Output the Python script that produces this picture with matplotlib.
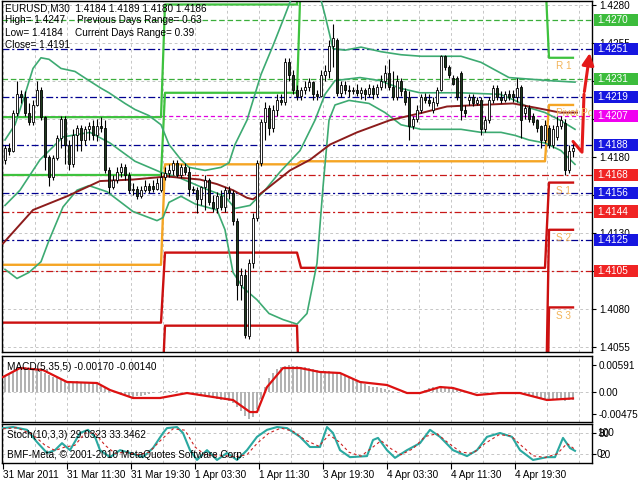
import numpy as np
import matplotlib
matplotlib.use("Agg")
import matplotlib.pyplot as plt
from matplotlib.patches import Rectangle
from matplotlib.transforms import blended_transform_factory

plt.rcParams['font.family'] = ['Liberation Sans', 'DejaVu Sans']
plt.rcParams['lines.scale_dashes'] = False

# ---------------- data ----------------
opens = [1.4178,1.4186,1.4184,1.4209,1.4221,1.4219,1.4209,1.4203,1.4214,1.4224,
 1.4206,1.4180,1.4167,1.4179,1.4192,1.4205,1.4188,1.4175,1.4194,1.4199,
 1.4191,1.4198,1.4200,1.4194,1.4200,1.4199,1.4171,1.4160,1.4165,1.4170,
 1.4173,1.4168,1.4158,1.4159,1.4154,1.4158,1.4161,1.4161,1.4159,1.4158,
 1.4167,1.4169,1.4171,1.4176,1.4168,1.4173,1.4170,1.4159,1.4158,1.4152,
 1.4160,1.4165,1.4150,1.4146,1.4154,1.4147,1.4158,1.4156,1.4138,1.4096,
 1.4102,1.4062,1.4110,1.4140,1.4176,1.4203,1.4212,1.4199,1.4211,1.4217,
 1.4216,1.4242,1.4234,1.4224,1.4220,1.4224,1.4226,1.4229,1.4221,1.4220,
 1.4234,1.4236,1.4253,1.4257,1.4222,1.4227,1.4224,1.4223,1.4224,1.4222,
 1.4224,1.4221,1.4225,1.4221,1.4226,1.4230,1.4235,1.4226,1.4219,1.4230,
 1.4223,1.4219,1.4200,1.4205,1.4211,1.4219,1.4217,1.4211,1.4215,1.4224,
 1.4246,1.4239,1.4232,1.4232,1.4235,1.4211,1.4217,1.4219,1.4215,1.4217,
 1.4198,1.4204,1.4217,1.4225,1.4219,1.4217,1.4221,1.4221,1.4219,1.4226,
 1.4209,1.4212,1.4207,1.4204,1.4200,1.4191,1.4199,1.4188,1.4193,1.4200,
 1.4202,1.4171,1.4184]
highs = [1.4188,1.4189,1.4211,1.4230,1.4224,1.4223,1.4215,1.4217,1.4230,1.4226,
 1.4207,1.4181,1.4181,1.4194,1.4207,1.4207,1.4191,1.4198,1.4201,1.4201,
 1.4200,1.4203,1.4204,1.4205,1.4206,1.4204,1.4173,1.4168,1.4173,1.4176,
 1.4175,1.4170,1.4163,1.4161,1.4161,1.4165,1.4163,1.4165,1.4166,1.4170,
 1.4173,1.4175,1.4178,1.4178,1.4175,1.4176,1.4173,1.4161,1.4160,1.4161,
 1.4168,1.4166,1.4155,1.4157,1.4158,1.4160,1.4161,1.4158,1.4140,1.4107,
 1.4106,1.4113,1.4143,1.4178,1.4205,1.4216,1.4214,1.4214,1.4221,1.4221,
 1.4245,1.4245,1.4237,1.4227,1.4226,1.4230,1.4232,1.4230,1.4224,1.4237,
 1.4240,1.4257,1.4267,1.4258,1.4230,1.4230,1.4227,1.4226,1.4228,1.4226,
 1.4225,1.4228,1.4227,1.4228,1.4234,1.4240,1.4244,1.4236,1.4234,1.4232,
 1.4225,1.4223,1.4207,1.4214,1.4221,1.4222,1.4221,1.4219,1.4226,1.4247,
 1.4247,1.4240,1.4234,1.4233,1.4236,1.4214,1.4221,1.4221,1.4219,1.4219,
 1.4207,1.4219,1.4227,1.4227,1.4223,1.4223,1.4224,1.4224,1.4232,1.4227,
 1.4214,1.4214,1.4209,1.4205,1.4201,1.4204,1.4201,1.4201,1.4207,1.4207,
 1.4205,1.4188,1.4189]
lows = [1.4175,1.4181,1.4183,1.4207,1.4215,1.4207,1.4201,1.4201,1.4213,1.4204,
 1.4171,1.4161,1.4165,1.4178,1.4186,1.4175,1.4171,1.4173,1.4184,1.4184,
 1.4188,1.4191,1.4191,1.4190,1.4196,1.4169,1.4156,1.4159,1.4163,1.4167,
 1.4165,1.4156,1.4155,1.4152,1.4153,1.4157,1.4156,1.4157,1.4158,1.4157,
 1.4165,1.4167,1.4168,1.4167,1.4166,1.4168,1.4154,1.4156,1.4143,1.4148,
 1.4145,1.4148,1.4144,1.4143,1.4145,1.4144,1.4152,1.4135,1.4086,1.4086,
 1.4061,1.4060,1.4107,1.4138,1.4174,1.4191,1.4194,1.4196,1.4207,1.4214,
 1.4214,1.4230,1.4221,1.4217,1.4217,1.4221,1.4223,1.4217,1.4217,1.4219,
 1.4230,1.4232,1.4239,1.4220,1.4219,1.4221,1.4219,1.4221,1.4220,1.4218,
 1.4217,1.4219,1.4218,1.4219,1.4224,1.4225,1.4224,1.4217,1.4217,1.4220,
 1.4214,1.4191,1.4198,1.4203,1.4209,1.4215,1.4213,1.4209,1.4213,1.4223,
 1.4237,1.4232,1.4227,1.4217,1.4204,1.4206,1.4214,1.4213,1.4214,1.4194,
 1.4196,1.4202,1.4215,1.4217,1.4215,1.4216,1.4217,1.4216,1.4216,1.4192,
 1.4205,1.4203,1.4201,1.4196,1.4186,1.4189,1.4186,1.4186,1.4191,1.4198,
 1.4168,1.4169,1.4180]
closes = [1.4186,1.4184,1.4209,1.4221,1.4219,1.4209,1.4203,1.4214,1.4224,1.4206,
 1.4180,1.4167,1.4179,1.4192,1.4205,1.4188,1.4175,1.4194,1.4199,1.4191,
 1.4198,1.4200,1.4194,1.4200,1.4199,1.4171,1.4160,1.4165,1.4170,1.4173,
 1.4168,1.4158,1.4159,1.4154,1.4158,1.4161,1.4158,1.4159,1.4163,1.4167,
 1.4169,1.4171,1.4176,1.4168,1.4173,1.4170,1.4159,1.4158,1.4152,1.4160,
 1.4165,1.4150,1.4146,1.4154,1.4147,1.4158,1.4156,1.4138,1.4096,1.4102,
 1.4063,1.4110,1.4140,1.4176,1.4203,1.4212,1.4199,1.4211,1.4217,1.4216,
 1.4242,1.4234,1.4224,1.4220,1.4224,1.4226,1.4229,1.4221,1.4220,1.4234,
 1.4236,1.4253,1.4258,1.4222,1.4227,1.4224,1.4223,1.4224,1.4222,1.4224,
 1.4221,1.4225,1.4221,1.4226,1.4230,1.4235,1.4226,1.4219,1.4230,1.4223,
 1.4216,1.4200,1.4205,1.4211,1.4219,1.4217,1.4215,1.4216,1.4224,1.4246,
 1.4239,1.4234,1.4228,1.4219,1.4211,1.4209,1.4219,1.4215,1.4217,1.4198,
 1.4204,1.4217,1.4225,1.4219,1.4217,1.4221,1.4219,1.4219,1.4225,1.4204,
 1.4212,1.4205,1.4203,1.4199,1.4191,1.4201,1.4188,1.4198,1.4200,1.4204,
 1.4171,1.4184,1.4186]

# Bollinger bands and long moving average
bb_up_x = [0, 2.5, 5, 7, 9, 11, 14, 17.5, 21, 24, 26, 30, 32.5, 36, 39, 41, 44, 46, 50, 54,
           56, 57.5, 60.5, 64, 67, 70, 72.5, 75, 78, 80, 82, 85, 89, 94, 99, 104, 109, 114, 119, 122.5,
           126, 131, 136, 142.5]
bb_up_y = [1.4191, 1.4201, 1.4221, 1.4238, 1.4245, 1.4244, 1.4238, 1.4236, 1.4230, 1.4225,
           1.4222, 1.4215, 1.4211, 1.4207, 1.4201, 1.4188, 1.4178, 1.4173, 1.4171, 1.4173,
           1.4176, 1.4188, 1.4204, 1.4234, 1.4253, 1.4273, 1.4290, 1.4303, 1.4293, 1.4273,
           1.4251, 1.4250, 1.4252, 1.4249, 1.4247, 1.4246, 1.4246, 1.4246, 1.4242, 1.4237,
           1.4232, 1.4231, 1.4230, 1.4229]
bb_mid_x = [0, 3.75, 8.75, 14.5, 21.25, 26.25, 32.5, 38.75, 43.75, 50,
            55, 57.5, 61.25, 65, 68.75, 73.75, 77.5, 80, 82.5, 88.75,
            93.75, 98.75, 103.75, 113.75, 123.75, 127.5, 131.25, 135, 138.75, 142.5]
bb_mid_y = [1.4148, 1.4158, 1.4178, 1.4193, 1.4196, 1.4189, 1.4177, 1.4170, 1.4166, 1.4159,
            1.4154, 1.4146, 1.4148, 1.4158, 1.4170, 1.4184, 1.4204, 1.4221, 1.4230, 1.4232,
            1.4230, 1.4225, 1.4222, 1.4222, 1.4221, 1.4217, 1.4212, 1.4209, 1.4204, 1.4198]
bb_lo_x = [0, 3, 6, 9, 11, 14.5, 18, 21, 25.5, 32, 38, 39.5, 41, 44, 47.5, 53, 55, 57, 59.5, 63,
           66, 69.5, 73, 75.5, 78, 79.5, 81, 82.5, 86, 91, 95, 99, 104, 109, 114, 119, 124, 127.5,
           131, 135, 139, 142.5]
bb_lo_y = [1.4106, 1.4100, 1.4104, 1.4111, 1.4125, 1.4147, 1.4158, 1.4161, 1.4157, 1.4144,
           1.4138, 1.4140, 1.4150, 1.4154, 1.4149, 1.4145, 1.4132, 1.4104, 1.4094, 1.4086,
           1.4077, 1.4073, 1.4070, 1.4077, 1.4110, 1.4160, 1.4204, 1.4214, 1.4217, 1.4215,
           1.4209, 1.4201, 1.4198, 1.4198, 1.4198, 1.4196, 1.4196, 1.4194, 1.4191, 1.4189,
           1.4184, 1.4175]
ma_x = [-0.5, 7, 15.5, 23.75, 32, 40.5, 48.75, 53, 57, 60.5, 62, 65.5, 71.25, 76.25, 81.25,
        88, 96.25, 104.5, 110.5, 118.75, 127, 133, 138.75, 143]
ma_y = [1.4123, 1.4145, 1.4154, 1.4164, 1.4165, 1.4167, 1.4165, 1.4162, 1.4158, 1.4153,
        1.4152, 1.4159, 1.4171, 1.4178, 1.4188, 1.4196, 1.4204, 1.4209, 1.4213, 1.4214,
        1.4215, 1.4212, 1.4209, 1.4209]

# daily pivot levels (4 sessions)
day_first = [-1, 40, 74, 136]
day_last = [39, 73, 135, 142]
piv = [1.4109, 1.4175, 1.4177, 1.4214]
r1 = [1.4168, 1.4222, 1.4302, 1.4245]
r2 = [1.4206, 1.4280, 1.4380, 1.4296]
s1 = [1.4071, 1.4117, 1.4107, 1.4163]
s2 = [1.4012, 1.4069, 1.3983, 1.4132]
s3 = [1.3974, 1.4012, 1.3906, 1.4081]
pivot_names = ['R 1', 'Pivot Point', 'S 1', 'S 2', 'S 3']

# horizontal level lines
hl_prices = [1.4270, 1.4251, 1.4231, 1.4219, 1.4207, 1.4188, 1.4168, 1.4156, 1.4144, 1.4125, 1.4105]
hl_kinds = ['g', 'b', 'g', 'b', 'm', 'b', 'r', 'b', 'r', 'b', 'r']

price_ticks = [1.4280, 1.4255, 1.4230, 1.4205, 1.4180, 1.4155, 1.4130, 1.4105, 1.4080, 1.4055]
price_tick_labels = ['1.4280', '1.4255', '', '', '1.4180', '', '1.4130', '', '1.4080', '1.4055']

# MACD
macd_main = [0.0035,0.0040,0.0046,0.0050,0.0052,0.0054,0.0053,0.0052,
 0.0050,0.0047,0.0042,0.0037,0.0033,0.0030,0.0027,
 0.0025,0.0024,0.0023,0.0024,0.0023,0.0022,0.0022,0.0021,0.0020,
 0.0016,0.0010,0.0005,0.0001,
 -0.0003,-0.0006,-0.0008,-0.0010,-0.0010,-0.0009,-0.0008,
 -0.0006,-0.0004,-0.0002,0.0000,0.0002,0.0003,0.0003,0.0002,0.0002,0.0001,0.0000,-0.0001,
 -0.0003,-0.0005,-0.0007,-0.0009,-0.0011,-0.0013,-0.0015,-0.0017,-0.0018,-0.0020,
 -0.0025,-0.0033,-0.0042,-0.0052,-0.0060,-0.0055,
 -0.0038,-0.0015,0.0010,0.0030,0.0042,
 0.0050,0.0055,0.0058,0.0059,0.0058,0.0056,0.0055,0.0054,0.0052,0.0050,0.0048,
 0.0047,0.0046,0.0045,0.0044,0.0042,0.0040,
 0.0036,0.0032,0.0028,0.0024,0.0020,0.0017,0.0014,0.0012,0.0010,0.0008,
 0.0006,0.0004,0.0002,0.0001,0.0000,
 -0.0001,-0.0002,-0.0002,-0.0001,0.0000,
 0.0004,0.0008,0.0010,0.0012,0.0013,0.0012,0.0010,0.0008,
 0.0006,0.0004,0.0002,0.0000,-0.0001,-0.0002,
 -0.0002,-0.0002,-0.0001,-0.0001,0.0000,0.0000,-0.0001,-0.0002,-0.0003,-0.0004,-0.0005,
 -0.0007,-0.0009,-0.0011,-0.0013,-0.0014,-0.0015,-0.0016,-0.0017,-0.0018,-0.0018,-0.0019,-0.0018,-0.0017]
sig_x = [-0.5, 3.75, 9.5, 15.5, 23, 26.25, 32, 38.75, 45.5, 52, 57, 61.25, 63, 65.5, 69.5,
         73.75, 78.75, 83.75, 88.75, 95.5, 100.5, 103.75, 108.75, 112, 118, 123.75, 128.75, 135.5, 142]
sig_y = [0.00328, 0.00525, 0.00481, 0.00219, 0.00197, 0.00044, -0.00131, -0.00131, -0.00022,
         -0.00109, -0.00175, -0.00438, -0.00438, 0.00109, 0.00525, 0.00525, 0.00438, 0.00416,
         0.00219, 0.00153, -0.00022, -0.00022, 0.00109, 0.00088, -0.00066, -0.00022, -0.00022,
         -0.00175, -0.00140]

# Stochastic
st_x = [-0.5, 2, 5.5, 8, 10.5, 12.5, 14.25, 16.25, 18.75, 20.75, 22.5, 23.75, 26.25, 28.75, 31.25,
        34.5, 37, 39.5, 40.5, 43, 44.5, 46.25, 48, 50.5, 53, 55.5, 58, 60.5, 63, 65.5, 68, 70.5,
        73.75, 76.25, 78.75, 80.5, 82, 83.75, 86.25, 90.5, 92, 93.25, 95.5, 97.5, 100.5, 103.75,
        106.25, 108.75, 112, 115.5, 118, 120.5, 123.75, 126.75, 128.75, 132, 135.5, 137.5, 139.5,
        141.25, 142.5]
st_y = [94, 97, 89, 54, 23, 31, 51, 31, 80, 89, 69, 31, 11, 31, 23, 11, 37, 80, 94, 97, 80, 31,
        3, 31, 3, 23, 3, 31, 69, 89, 97, 94, 69, 40, 40, 97, 80, 31, 11, 14, 60, 66, 31, 9, 31,
        51, 89, 69, 31, 14, 31, 69, 80, 69, 31, 3, 11, 11, 66, 37, 29]
ss_x = [-0.5, 3, 7, 10, 12.5, 15, 17.5, 20, 22.5, 25, 27.5, 30, 33, 36, 39, 42, 45, 47.5, 50, 52.5,
        55, 57.5, 60.5, 63, 66, 69, 72, 75, 78.5, 81, 83.5, 86, 89, 92, 94, 96.5, 99, 102, 105,
        108, 111, 114, 117, 120, 123.5, 126.5, 129, 132, 135, 138, 140.5, 142.5]
ss_y = [92, 95, 75, 45, 30, 40, 45, 80, 80, 45, 22, 25, 18, 25, 60, 92, 88, 40, 18, 15, 15, 12,
        18, 50, 80, 94, 85, 60, 42, 75, 55, 25, 14, 40, 58, 35, 18, 35, 70, 78, 50, 25, 22, 50,
        75, 72, 45, 15, 10, 20, 50, 33]

time_ticks = [-0.5, 15.5, 31.5, 47.5, 63.5, 79.5, 95.5, 111.5, 127.5]
time_labels = ['31 Mar 2011', '31 Mar 11:30', '31 Mar 19:30', '1 Apr 03:30', '1 Apr 11:30',
               '3 Apr 19:30', '4 Apr 03:30', '4 Apr 11:30', '4 Apr 19:30']

# ---------------- figure ----------------
W, H = 640, 480
fig = plt.figure(figsize=(6.4, 4.8), dpi=100)
fig.patch.set_facecolor('white')


def rect(x0, y0, x1, y1):
    return [x0 / W, 1 - y1 / H, (x1 - x0) / W, (y1 - y0) / H]


ax = fig.add_axes(rect(2, 1, 592, 352))
axm = fig.add_axes(rect(2, 356, 592, 422))
axs = fig.add_axes(rect(2, 424, 592, 463))

FS = 7.2
grid_kw = dict(color='#BDBDBD', lw=0.6, ls=(0, (2, 2)), zorder=0)
vgrid = np.arange(-0.5, 147, 8)
for a in (ax, axm, axs):
    a.set_xlim(-0.75, 146.75)
    for s in a.spines.values():
        s.set_linewidth(1.0)
        s.set_color('black')
    for g in vgrid:
        a.axvline(g, **grid_kw)
    a.tick_params(axis='x', length=0, labelbottom=False)
    a.yaxis.tick_right()
    a.tick_params(axis='y', length=3, pad=2, labelsize=FS, right=True, left=False,
                  labelright=True, labelleft=False, width=0.8)

# ---- main price panel ----
ax.set_ylim(1.40517, 1.42823)
for t in price_ticks:
    ax.axhline(t, **grid_kw)
ax.set_yticks(price_ticks)
ax.set_yticklabels(price_tick_labels)

line_style = {'g': ('#3AAE3A', (0, (4, 2))), 'b': ('#000090', (0, (5, 2, 1.5, 2))),
              'r': ('#C81818', (0, (5, 2, 1.5, 2))), 'm': ('#E000E0', (0, (3, 2)))}
box_color = {'g': '#3CBC3C', 'b': '#1616E0', 'm': '#F000F0', 'r': '#F02424'}
for p, k in zip(hl_prices, hl_kinds):
    c, ls = line_style[k]
    ax.axhline(p, color=c, ls=ls, lw=0.9, zorder=1)


def steps(levels):
    xs, ys = [], []
    for s, e, v in zip(day_first, day_last, levels):
        xs += [s, e]
        ys += [v, v]
    return xs, ys


for lv in (r2, r1):
    ax.plot(*steps(lv), color='#3EC23E', lw=1.6, zorder=2)
for lv in (s1, s2, s3):
    ax.plot(*steps(lv), color='#CC1010', lw=1.7, zorder=2)
ax.plot(*steps(piv), color='#F5A524', lw=1.7, zorder=2)

lab_levels = [r1[-1], piv[-1], s1[-1], s2[-1], s3[-1]]
for name, lv in zip(pivot_names, lab_levels):
    ax.annotate(name, (137.8, lv), xytext=(0, -6), textcoords='offset points',
                color='#F2B45A', fontsize=FS, va='center', ha='left',
                annotation_clip=False, clip_on=True, zorder=7)

ax.plot(bb_up_x, bb_up_y, color='#3DAA72', lw=1.2, zorder=3)
ax.plot(bb_mid_x, bb_mid_y, color='#3DAA72', lw=1.2, zorder=3)
ax.plot(bb_lo_x, bb_lo_y, color='#3DAA72', lw=1.2, zorder=3)
ax.plot(ma_x, ma_y, color='#8C1C1C', lw=1.4, zorder=3)

# candles
n = len(closes)
xb = np.arange(n)
o = np.array(opens); c = np.array(closes); h = np.array(highs); l = np.array(lows)
ax.vlines(xb, l, h, color='black', lw=0.8, zorder=4)
bottoms = np.minimum(o, c)
heights = np.maximum(np.abs(c - o), 0.00003)
colors = ['white' if cc >= oo else '#1E3A1E' for oo, cc in zip(o, c)]
ax.bar(xb, heights, bottom=bottoms, width=0.7, color=colors, edgecolor='black',
       linewidth=0.6, zorder=5)

# hand-drawn red arrow
arrow_x = [142, 144.25, 144.75]
arrow_y = [1.4190, 1.4183, 1.4221]
ax.plot(arrow_x, arrow_y, color='#E41A1A', lw=2.2, zorder=6, solid_capstyle='round')
ax.annotate('', xy=(146.3, 1.4250), xytext=(144.75, 1.4221),
            arrowprops=dict(arrowstyle='-|>,head_length=0.7,head_width=0.35',
                            color='#E41A1A', lw=2.2), zorder=6)

# header text
hdr = dict(transform=ax.transAxes, fontsize=FS, color='black', va='center', ha='left', zorder=7)
ax.text(0.005, 0.980, 'EURUSD,M30  1.4184 1.4189 1.4180 1.4186', **hdr)
ax.text(0.005, 0.946, 'High= 1.4247', **hdr)
ax.text(0.127, 0.946, 'Previous Days Range= 0.63', **hdr)
ax.text(0.005, 0.909, 'Low= 1.4184', **hdr)
ax.text(0.124, 0.909, 'Current Days Range= 0.39', **hdr)
ax.text(0.005, 0.875, 'Close= 1.4191', **hdr)

# coloured price boxes on the right scale
tr = blended_transform_factory(ax.transAxes, ax.transData)
for p, k in zip(hl_prices, hl_kinds):
    ax.add_patch(Rectangle((1.0034, p - 0.000395), 0.0746, 0.00079, transform=tr,
                           clip_on=False, fc=box_color[k], ec='none', zorder=8))
    ax.text(1.0085, p, f"{p:.4f}", transform=tr, color='white', fontsize=FS,
            va='center', ha='left', clip_on=False, zorder=9)

# ---- MACD panel ----
axm.set_ylim(-0.00656, 0.00788)
axm.axhline(0, **grid_kw)
axm.bar(xb, macd_main, width=0.45, color='#B2B2B2', zorder=2)
axm.plot(sig_x, sig_y, color='#DD1111', lw=1.6, zorder=3)
axm.set_yticks([0.00591, 0.0, -0.00475])
axm.set_yticklabels(['0.00591', '0.00', '-0.00475'])
axm.text(0.0085, 0.83, 'MACD(5,35,5) -0.00170 -0.00140', transform=axm.transAxes,
         fontsize=FS, va='center', ha='left', zorder=5)

# ---- Stochastic panel ----
axs.set_ylim(-5.7, 105.7)
axs.axhline(80, **grid_kw)
axs.axhline(20, **grid_kw)
axs.plot(st_x, st_y, color='#2AA8A0', lw=1.5, zorder=3)
axs.plot(ss_x, ss_y, color='#CC2222', lw=0.8, ls=(0, (2, 2)), zorder=3)
axs.set_yticks([80, 20])
axs.set_yticklabels(['80', '20'])
trs = blended_transform_factory(axs.transAxes, axs.transData)
axs.text(1.0085, 80, '100', transform=trs, fontsize=FS, va='center', ha='left', clip_on=False)
axs.text(1.0085, 20, '0', transform=trs, fontsize=FS, va='center', ha='left', clip_on=False)
axs.text(0.0085, 0.72, 'Stoch(10,3,3) 29.0323 33.3462', transform=axs.transAxes,
         fontsize=FS, va='center', ha='left', zorder=5)
axs.text(0.0085, 0.205, 'BMF-Meta, \u00a9 2001-2010 MetaQuotes Software Corp.',
         transform=axs.transAxes, fontsize=FS, va='center', ha='left', zorder=5)

axs.set_xticks(time_ticks)
axs.set_xticklabels(time_labels, ha='left')
axs.tick_params(axis='x', length=4, width=0.8, labelbottom=True, labelsize=FS, pad=1,
                bottom=True, direction='out')

fig.savefig('out.png', dpi=100)
